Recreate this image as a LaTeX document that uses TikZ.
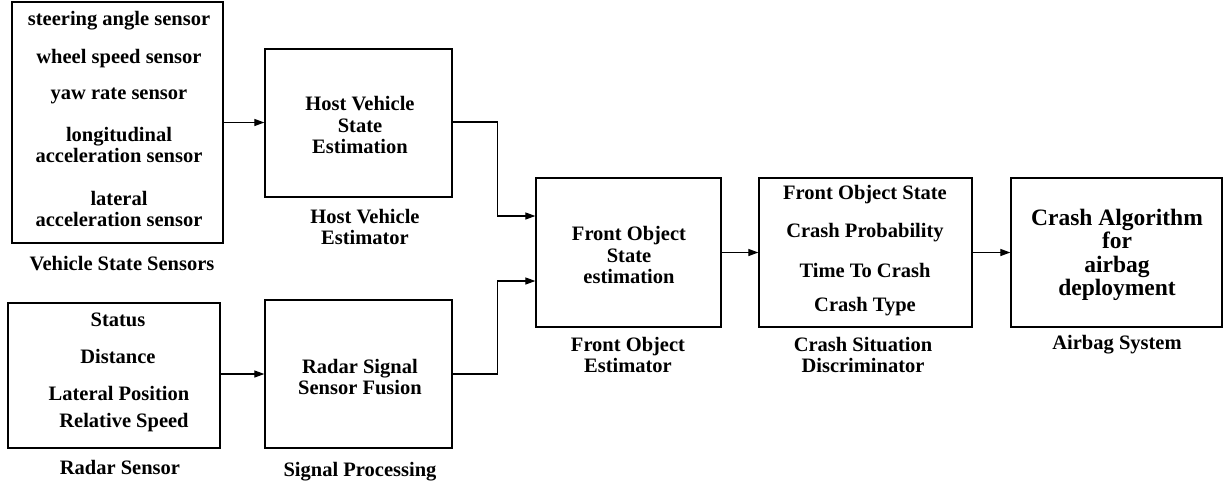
\documentclass[tikz,border=0pt]{standalone}
\usepackage{fontspec}
\setmainfont{Liberation Serif}
\usetikzlibrary{arrows.meta,calc}
\begin{document}
\begin{tikzpicture}[x=1pt,y=-1pt,
  box/.style={draw=black,line width=1.3pt,inner sep=0pt,fill=white},
  txt/.style={inner sep=0pt,align=center,font=\bfseries\fontsize{20.5}{21.5}\selectfont},
  bigtxt/.style={inner sep=0pt,align=center,font=\bfseries\fontsize{23.5}{23.5}\selectfont},
  arr/.style={line width=1.2pt,-{Triangle[length=10pt,width=7pt]}}]
\useasboundingbox (0,0) rectangle (1230,480);
% boxes
\node[box,minimum width=211pt,minimum height=241pt] (vss) at (117.5,122.5) {};
\node[box,minimum width=187pt,minimum height=148pt] (host) at (358.5,123) {};
\node[box,minimum width=212pt,minimum height=145pt] (radar) at (114,375.5) {};
\node[box,minimum width=187pt,minimum height=148pt] (sig) at (358.5,374) {};
\node[box,minimum width=185pt,minimum height=149pt] (fo) at (628.5,252.5) {};
\node[box,minimum width=213pt,minimum height=149pt] (csd) at (865.5,252.5) {};
\node[box,minimum width=211pt,minimum height=149pt] (air) at (1116.5,252.5) {};
% box 1 texts
\node[txt] (s1) at (119,21) {steering angle sensor};
\node[txt] (s2) at (119,59) {wheel speed sensor};
\node[txt] (s3) at (119,96) {yaw rate sensor};
\node[txt] (s4) at (119,145) {longitudinal\\acceleration sensor};
\node[txt] (s5) at (119,209) {lateral\\acceleration sensor};
\node[txt] (l1) at (122,264) {Vehicle State Sensors};
% host
\node[txt] (h1) at (360,125) {Host Vehicle\\State\\Estimation};
\node[txt] (l2) at (365,227) {Host Vehicle\\Estimator};
% radar
\node[txt] (r1) at (118,320) {Status};
\node[txt] (r2) at (118,356) {Distance};
\node[txt] (r3) at (119,393) {Lateral Position};
\node[txt] (r4) at (124,423) {Relative Speed};
\node[txt] (l3) at (120,467) {Radar Sensor};
% signal
\node[txt] (g1) at (360,377) {Radar Signal\\Sensor Fusion};
\node[txt] (l4) at (360,472) {Signal Processing};
% front object
\node[txt] (f1) at (629,255) {Front Object\\State\\estimation};
\node[txt] (l5) at (628,355) {Front Object\\Estimator};
% crash situation
\node[txt] (c1) at (865,195) {Front Object State};
\node[txt] (c2) at (865,233) {Crash Probability};
\node[txt] (c3) at (865,270) {Time To Crash};
\node[txt] (c4) at (865,307) {Crash Type};
\node[txt] (l6) at (863,355) {Crash Situation\\Discriminator};
% airbag
\node[bigtxt] (a1) at (1117,255) {Crash Algorithm\\for\\airbag\\deployment};
\node[txt] (l7) at (1117,345) {Airbag System};
% connectors
\draw[arr] (vss.east) -- (vss.east -| host.west);
\draw[arr] (radar.east |- sig.west) -- (sig.west);
\coordinate (j1) at ([xshift=-38pt,yshift=36.5pt]fo.west);
\coordinate (j2) at ([xshift=-38pt,yshift=-28.5pt]fo.west);
\draw[line width=1.2pt] ([yshift=1pt]host.east) -| (j1);
\draw[arr] (j1) -- (j1 -| fo.west);
\draw[line width=1.2pt] (sig.east) -| (j2);
\draw[arr] (j2) -- (j2 -| fo.west);
\draw[arr] (fo.east) -- (csd.west);
\draw[arr] (csd.east) -- (air.west);
\end{tikzpicture}
\end{document}
